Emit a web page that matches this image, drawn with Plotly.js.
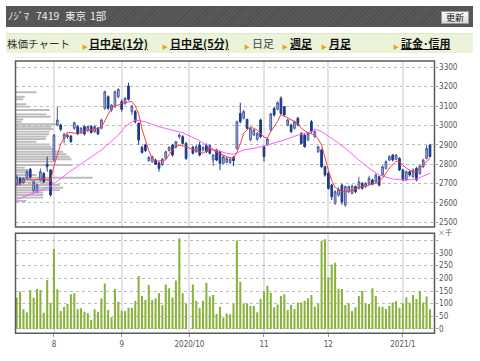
<!DOCTYPE html>
<html><head><meta charset="utf-8">
<script src="https://cdn.plot.ly/plotly-3.0.1.min.js"></script>
<style>
body{margin:0;padding:0;background:#fff;}
#wrap{position:relative;width:480px;height:361px;overflow:hidden;font-family:"Noto Sans CJK JP","Noto Sans",sans-serif;}
#chart{position:absolute;left:0;top:0;width:480px;height:361px;}
.ab{position:absolute;white-space:nowrap;}
#hdr{left:6px;top:6px;width:467px;height:21px;background:repeating-linear-gradient(-45deg,#595959 0px,#595959 2px,#4f4f4f 2px,#4f4f4f 3px);z-index:5;}
#hdr span{position:absolute;top:3px;color:#eee;font-size:10.5px;line-height:14px;}
#btn{position:absolute;left:435px;top:5px;width:26px;height:11px;background:linear-gradient(#fafafa,#dcdcdc);border:1px solid #999;font-size:9px;line-height:11px;text-align:center;color:#111;}
#tabs{left:6px;top:33px;width:467px;height:19px;background:#ebf3d9;border-top:1px solid #dfe8cc;z-index:5;}
#tabs span{position:absolute;top:2px;font-size:11px;line-height:15px;color:#222;}
#tabs .lk{font-weight:bold;text-decoration:underline;color:#111;}
#tabs .ar{color:#f0a020;font-size:6px;top:5px;}
#sep{left:15px;top:57px;width:419px;height:1px;background:#ececec;z-index:5;}
</style></head>
<body>
<div id="wrap">
<div id="chart"></div>
<div id="hdr" class="ab">
  <span style="left:2px">ﾉｼﾞﾏ</span>
  <span style="left:30px">7419</span>
  <span style="left:59px">東京</span>
  <span style="left:84px">1部</span>
  <div id="btn">更新</div>
</div>
<div id="tabs" class="ab">
  <span style="left:1px;font-size:10.5px;color:#333">株価チャート</span>
  <span class="ar" style="left:76px">▶</span><span class="lk" style="left:83px">日中足(1分)</span>
  <span class="ar" style="left:156px">▶</span><span class="lk" style="left:164px">日中足(5分)</span>
  <span class="ar" style="left:238px">▶</span><span style="left:246px;color:#444">日足</span>
  <span class="ar" style="left:276px">▶</span><span class="lk" style="left:284px">週足</span>
  <span class="ar" style="left:315px">▶</span><span class="lk" style="left:323px">月足</span>
  <span class="ar" style="left:387px">▶</span><span class="lk" style="left:395px">証金･信用</span>
</div>
<div id="sep" class="ab"></div>
</div>
<script>
const dates = [
'2020-07-15','2020-07-16','2020-07-17','2020-07-20','2020-07-21','2020-07-22','2020-07-27','2020-07-28','2020-07-29','2020-07-30','2020-07-31',
'2020-08-03','2020-08-04','2020-08-05','2020-08-06','2020-08-07','2020-08-11','2020-08-12','2020-08-13','2020-08-14','2020-08-17','2020-08-18','2020-08-19','2020-08-20','2020-08-21','2020-08-24','2020-08-25','2020-08-26','2020-08-27','2020-08-28','2020-08-31',
'2020-09-01','2020-09-02','2020-09-03','2020-09-04','2020-09-07','2020-09-08','2020-09-09','2020-09-10','2020-09-11','2020-09-14','2020-09-15','2020-09-16','2020-09-17','2020-09-18','2020-09-23','2020-09-24','2020-09-25','2020-09-28','2020-09-29','2020-09-30',
'2020-10-01','2020-10-02','2020-10-05','2020-10-06','2020-10-07','2020-10-08','2020-10-09','2020-10-12','2020-10-13','2020-10-14','2020-10-15','2020-10-16','2020-10-19','2020-10-20','2020-10-21','2020-10-22','2020-10-23','2020-10-26','2020-10-27','2020-10-28','2020-10-29','2020-10-30',
'2020-11-02','2020-11-04','2020-11-05','2020-11-06','2020-11-09','2020-11-10','2020-11-11','2020-11-12','2020-11-13','2020-11-16','2020-11-17','2020-11-18','2020-11-19','2020-11-20','2020-11-24','2020-11-25','2020-11-26','2020-11-27','2020-11-30',
'2020-12-01','2020-12-02','2020-12-03','2020-12-04','2020-12-07','2020-12-08','2020-12-09','2020-12-10','2020-12-11','2020-12-14','2020-12-15','2020-12-16','2020-12-17','2020-12-18','2020-12-21','2020-12-22','2020-12-23','2020-12-24','2020-12-25','2020-12-28','2020-12-29','2020-12-30',
'2021-01-04','2021-01-05','2021-01-06','2021-01-07','2021-01-08','2021-01-12','2021-01-13','2021-01-14','2021-01-15'];

const open = [2697,2727,2705,2727,2773,2663,2658,2718,2752,2800,2770,
2821,3002,3002,2933,2940,2945,2985,2994,2962,2994,2973,2994,2968,2985,2985,3088,3148,3080,3097,3148,
3123,3114,3203,3071,3071,3011,2887,2899,2818,2813,2821,2807,2796,2830,2870,2899,2887,2942,2942,2907,
null,2887,2864,2899,2873,2899,2895,2821,2873,2864,2804,2810,2808,2835,2881,3062,3037,3031,2925,2950,2928,3028,
2890,2899,2976,3088,3083,3140,3097,3002,3002,2985,3037,2959,2950,2925,3019,2942,2864,2873,2787,
2752,2692,2598,2640,2692,2589,2658,2649,2684,2675,2701,2684,2697,2718,2709,2735,2744,2778,2821,2847,2825,2830,
2770,2718,2761,2735,2778,2752,2787,2830,2899];
const high = [2745,2735,2732,2770,2780,2715,2700,2778,2760,2839,2775,
2955,3097,3010,2960,2958,2950,3020,3000,2992,3000,3000,3002,3000,2992,3035,3180,3155,3110,3180,3192,
3135,3148,3220,3105,3080,3015,2895,2905,2842,2845,2828,2812,2832,2870,2893,2905,2920,2959,2950,2915,
null,2895,2900,2915,2893,2907,2900,2852,2880,2870,2845,2838,2832,2842,3025,3117,3080,3035,2990,2982,2965,3035,
2895,2935,3065,3095,3125,3150,3100,3035,3008,3025,3045,2965,2955,2965,3028,2975,2895,2880,2792,
2760,2698,2665,2680,2698,2690,2690,2695,2690,2735,2708,2708,2740,2725,2752,2740,2795,2820,2845,2852,2852,2835,
2775,2768,2768,2778,2785,2796,2828,2899,2905];
const low = [2690,2690,2700,2720,2725,2649,2650,2710,2700,2761,2632,
2813,2995,2970,2907,2930,2910,2978,2950,2955,2948,2965,2958,2960,2950,2980,3080,3080,3070,3090,3140,
3071,3105,3128,3054,3010,2899,2855,2862,2812,2806,2796,2761,2790,2825,2865,2840,2880,2930,2900,2822,
null,2850,2858,2840,2865,2858,2850,2790,2815,2770,2798,2804,2800,2790,2875,3010,3030,2980,2918,2945,2920,2935,
2813,2895,2970,3045,3078,3055,3045,2995,2960,2978,2995,2900,2885,2918,2960,2935,2858,2780,2735,
2668,2615,2590,2632,2590,2580,2650,2645,2650,2670,2668,2678,2690,2690,2702,2685,2738,2772,2815,2815,2820,2765,
2712,2712,2735,2728,2712,2745,2780,2825,2835];
const close = [2735,2700,2727,2761,2732,2709,2692,2761,2709,2787,2641,
2950,3028,2980,2955,2950,2916,3014,2956,2985,2956,2994,2963,2994,2956,3028,3174,3088,3105,3174,3186,
3083,3140,3135,3100,3019,2925,2860,2870,2835,2839,2800,2778,2825,2864,2887,2847,2916,2950,2907,2830,
null,2856,2890,2847,2887,2864,2856,2847,2821,2804,2839,2830,2825,2818,3019,3019,3071,2985,2985,2976,2959,2942,
2839,2930,3059,3054,3117,3062,3054,3028,2968,3019,3002,2907,2890,2959,2968,2968,2890,2787,2744,
2675,2632,2658,2670,2606,2684,2684,2687,2658,2709,2675,2701,2727,2697,2744,2692,2787,2813,2839,2821,2847,2770,
2718,2761,2744,2770,2718,2790,2821,2882,2839];

// volume, thousand shares
const volume = [124,147,78,66,154,124,158,154,64,193,
104,316,157,71,88,99,137,141,79,82,
68,62,36,78,68,121,180,75,46,158,
108,72,71,84,84,111,209,130,114,174,
114,121,141,95,176,161,124,191,358,141,
100,null,176,111,84,112,183,128,134,59,
88,45,61,58,99,349,187,101,101,91,
91,66,118,147,171,143,86,97,130,137,
75,95,79,104,105,112,121,134,88,101,
347,354,203,255,262,158,158,95,101,71,
86,130,150,101,99,161,130,88,88,79,
92,105,111,84,101,124,104,134,118,150,
105,128,78];

// short moving average (red)
const maShortDates = ['2020-07-15','2020-07-20','2020-07-22','2020-07-29','2020-07-31','2020-08-03','2020-08-05','2020-08-07','2020-08-13','2020-08-18','2020-08-24','2020-08-26','2020-08-27','2020-09-01','2020-09-04','2020-09-07','2020-09-08','2020-09-09','2020-09-10','2020-09-11','2020-09-14','2020-09-15','2020-09-16','2020-09-18','2020-09-23','2020-09-24','2020-09-25','2020-09-28','2020-09-30','2020-10-02','2020-10-07','2020-10-09','2020-10-13','2020-10-15','2020-10-16','2020-10-20','2020-10-21','2020-10-22','2020-10-23','2020-10-27','2020-10-29','2020-11-02','2020-11-04','2020-11-05','2020-11-09','2020-11-10','2020-11-12','2020-11-17','2020-11-18','2020-11-20','2020-11-25','2020-11-26','2020-11-27','2020-11-30','2020-12-01','2020-12-02','2020-12-03','2020-12-07','2020-12-09','2020-12-14','2020-12-16','2020-12-21','2020-12-23','2020-12-25','2020-12-29','2020-12-30','2021-01-05','2021-01-07','2021-01-08','2021-01-13','2021-01-15'];
const maShort = [2690,2723,2718,2727,2713,2790,2905,2965,2958,2975,2990,3054,3090,3114,3124,3100,3060,2980,2920,2870,2830,2818,2816,2822,2850,2875,2892,2898,2890,2875,2856,2880,2864,2845,2838,2830,2860,2905,2960,2993,2976,2940,2935,2968,3020,3057,3037,3011,2985,2962,2950,2930,2899,2830,2770,2715,2680,2658,2658,2679,2689,2701,2727,2779,2816,2812,2779,2758,2762,2796,2830];

// long moving average (magenta)
const maLongDates = ['2020-07-15','2020-07-22','2020-07-31','2020-08-07','2020-08-17','2020-08-24','2020-08-31','2020-09-02','2020-09-07','2020-09-10','2020-09-16','2020-09-18','2020-09-29','2020-10-05','2020-10-12','2020-10-16','2020-10-20','2020-10-23','2020-10-29','2020-11-04','2020-11-11','2020-11-17','2020-11-24','2020-11-25','2020-11-27','2020-12-02','2020-12-08','2020-12-14','2020-12-17','2020-12-22','2020-12-28','2021-01-05','2021-01-08','2021-01-15'];
const maLong = [2618,2649,2684,2753,2813,2873,2950,2993,3028,3019,2993,2985,2962,2930,2878,2856,2851,2873,2885,2899,2925,2950,2968,2981,2968,2933,2882,2821,2779,2744,2723,2718,2723,2753];

// volume by price (grey bars on the left)
const vpPrice = [3171,3148,3135,3109,3097,3080,3057,3045,3031,3019,3006,2993,2981,2968,2954,2942,2930,2916,2902,2890,2878,2864,2851,2838,2825,2813,2796,2782,2770,2758,2744,2730,2718,2706,2692,2678,2666,2654,2641,2627,2610];
const vpVolume = [251,111,92,131,171,406,370,418,92,72,489,430,450,409,402,370,361,251,409,430,469,569,608,648,668,450,680,111,152,191,251,919,409,450,529,569,529,330,330,330,131];

const monthTickDates = ['2020-08-03','2020-09-01','2020-10-01','2020-11-02','2020-12-01','2021-01-04'];
const monthTickLabels = ['8','9','2020/10','11','12','2021/1'];
const priceTicks = [2500,2600,2700,2800,2900,3000,3100,3200,3300];
const volTicks = [0,50,100,150,200,250,300,350];
const volTickLabels = ['0','50','100','150','200','250','300',''];

const W = 480, H = 361;
const px = v => v / W, py = v => 1 - v / H;
const xDom = [px(15.5), px(434.5)];
const priceDom = [py(227), py(61)];
const volDom = [py(333.3), py(233.3)];
const catRange = [-0.35, 123.33];
const tickFont = {family: 'DejaVu Sans Condensed, DejaVu Sans, sans-serif', size: 8, color: '#555'};

const traces = [
  {type: 'bar', orientation: 'h', x: vpVolume, y: vpPrice, width: 10,
   xaxis: 'x', yaxis: 'y', marker: {color: '#bcbcbc', line: {width: 0}}, hoverinfo: 'skip'},
  {type: 'candlestick', x: dates, open: open, high: high, low: low, close: close,
   xaxis: 'x2', yaxis: 'y', whiskerwidth: 0,
   increasing: {line: {color: '#4a5aa2', width: 1}, fillcolor: '#b3bbe2'},
   decreasing: {line: {color: '#1d3a8a', width: 1}, fillcolor: '#1d3a8a'}},
  {type: 'scatter', mode: 'lines', x: maLongDates, y: maLong, xaxis: 'x2', yaxis: 'y',
   line: {color: '#ff5cff', width: 1}},
  {type: 'scatter', mode: 'lines', x: maShortDates, y: maShort, xaxis: 'x2', yaxis: 'y',
   line: {color: '#ff3b3b', width: 1}},
  {type: 'bar', x: dates, y: volume, xaxis: 'x3', yaxis: 'y2',
   marker: {color: '#89b23a', line: {width: 0}}}
];

const layout = {
  width: W, height: H, margin: {l: 0, r: 0, t: 0, b: 0},
  paper_bgcolor: '#fff', plot_bgcolor: '#fff', showlegend: false,
  bargap: 0.4, boxgap: 0.28,
  xaxis: {domain: xDom, anchor: 'y', range: [0, 5000], visible: false, fixedrange: true},
  xaxis2: {type: 'category', overlaying: 'x', anchor: 'y', categoryorder: 'array', categoryarray: dates,
    range: catRange, tickvals: monthTickDates, ticktext: monthTickLabels, showticklabels: false,
    ticks: '', showgrid: true, gridcolor: '#e3e3e3', gridwidth: 2, zeroline: false,
    rangeslider: {visible: false}, showline: false},
  yaxis: {domain: priceDom, anchor: 'x', side: 'right', range: [2475.5, 3332.5],
    tickvals: priceTicks, ticks: 'outside', ticklen: 2, tickcolor: '#999', tickfont: tickFont,
    showgrid: true, gridcolor: '#bdbdbd', griddash: 'dot', gridwidth: 1, zeroline: false},
  xaxis3: {type: 'category', domain: xDom, anchor: 'y2', categoryorder: 'array', categoryarray: dates,
    range: catRange, tickvals: monthTickDates, ticktext: monthTickLabels,
    ticks: 'outside', ticklen: 3, tickcolor: '#999', tickfont: tickFont, tickangle: 0,
    showgrid: true, gridcolor: '#e3e3e3', gridwidth: 2, zeroline: false},
  yaxis2: {domain: volDom, anchor: 'x3', side: 'right', range: [-17, 377.8],
    tickvals: volTicks, ticktext: volTickLabels, ticks: 'outside', ticklen: 2, tickcolor: '#999',
    tickfont: tickFont, showgrid: true, gridcolor: '#bdbdbd', griddash: 'dot', gridwidth: 1, zeroline: false},
  shapes: [
    {type: 'rect', xref: 'paper', yref: 'paper', x0: xDom[0], x1: xDom[1], y0: priceDom[0], y1: priceDom[1],
     line: {color: '#5a5a5a', width: 1.5}, layer: 'above'},
    {type: 'rect', xref: 'paper', yref: 'paper', x0: xDom[0], x1: xDom[1], y0: volDom[0], y1: volDom[1],
     line: {color: '#5a5a5a', width: 1.5}, layer: 'above'}
  ],
  annotations: [
    {xref: 'paper', yref: 'paper', x: px(436), y: py(231.5), xanchor: 'left', yanchor: 'middle',
     text: '×千', showarrow: false, font: {family: 'Noto Sans CJK JP, sans-serif', size: 7, color: '#555'}}
  ]
};

Plotly.newPlot('chart', traces, layout, {displayModeBar: false, staticPlot: true});
</script>
</body></html>
